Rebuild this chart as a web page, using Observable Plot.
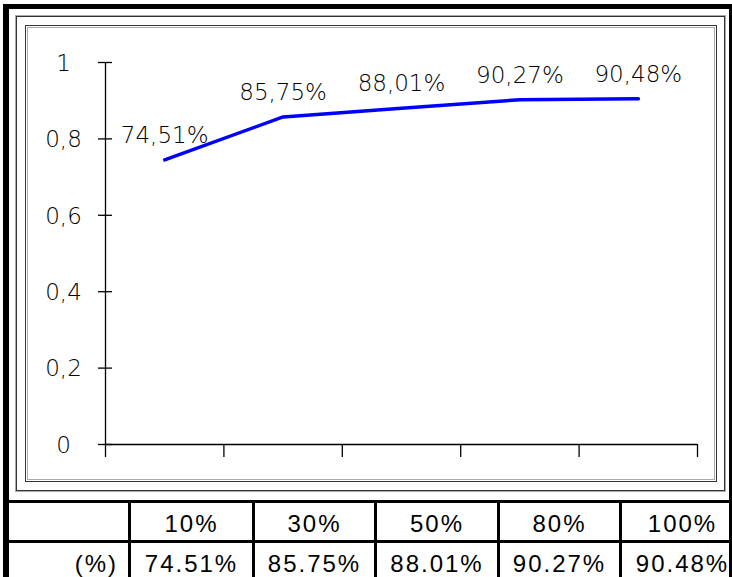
<!DOCTYPE html>
<html>
<head>
<meta charset="utf-8">
<script src="https://cdn.jsdelivr.net/npm/d3@7"></script>
<script src="https://cdn.jsdelivr.net/npm/@observablehq/plot@0.6"></script>
<style>
  html, body { margin: 0; padding: 0; background: #fff; }
  body { width: 732px; height: 577px; overflow: hidden; position: relative; }
  .abs { position: absolute; box-sizing: border-box; }
  #chart { position: absolute; left: 0; top: 0; }
  #tbl { position: absolute; left: 9px; top: 500px; border-collapse: separate; border-spacing: 0;
         table-layout: fixed; border-top: 3px solid #000;
         font-family: "Liberation Sans", Arial, sans-serif; font-size: 24px; letter-spacing: 2px; color: #000; }
  #tbl td { box-sizing: border-box; height: 40px; border-right: 3px solid #000; border-bottom: 3px solid #000;
            padding: 4px 0 0 0; text-align: center; vertical-align: middle; white-space: nowrap; }
  #tbl td.name { text-align: right; padding-right: 10px; }
</style>
</head>
<body>
<div id="chart"></div>
<!-- outer black page border -->
<div class="abs" style="left:3px; top:4px; width:760px; height:600px; border-top:5px solid #000; border-left:6px solid #000;"></div>
<div class="abs" style="left:729px; top:4px; width:10px; height:600px; background:#000;"></div>
<!-- chart area double frames -->
<div class="abs" style="left:15px; top:15px; width:711px; height:477px; border:1px solid #aaa;"></div>
<div class="abs" style="left:16px; top:16px; width:709px; height:475px; border:1.5px solid #333;"></div>
<div class="abs" style="left:25px; top:25px; width:692px; height:457px; border:1.5px solid #333;"></div>
<div class="abs" style="left:27px; top:27px; width:688px; height:453px; border:1px solid #aaa;"></div>
<table id="tbl"></table>
<script>
const categories = ["10%", "30%", "50%", "80%", "100%"];
const values = [0.7451, 0.8575, 0.8801, 0.9027, 0.9048];
const pointLabels = ["74,51%", "85,75%", "88,01%", "90,27%", "90,48%"];
const tableValues = ["74.51%", "85.75%", "88.01%", "90.27%", "90.48%"];
const seriesName = "(%)";
const yTicks = [0, 0.2, 0.4, 0.6, 0.8, 1];
const yTickLabels = ["0", "0,2", "0,4", "0,6", "0,8", "1"];

const data = categories.map((c, i) => ({category: c, pos: i + 0.5, value: values[i], label: pointLabels[i]}));
const boundaries = d3.range(categories.length + 1);

const chart = Plot.plot({
  width: 732,
  height: 500,
  marginLeft: 105,
  marginRight: 35,
  marginTop: 62,
  marginBottom: 56,
  style: {fontFamily: "'DejaVu Sans', sans-serif", fontSize: "23px", background: "transparent", color: "#000"},
  x: {domain: [0, categories.length]},
  y: {domain: [0, 1], axis: null},
  marks: [
    // y ticks crossing the axis line
    Plot.ruleY(yTicks, {y: d => d, x1: 0, x2: 0, insetLeft: -7, insetRight: -7, stroke: "#000", strokeWidth: 1.3}),
    Plot.text(yTicks, {y: d => d, text: (d, i) => yTickLabels[i], frameAnchor: "left", dx: -42, dy: 1,
      textAnchor: "middle", fontSize: 23, fontWeight: 200, fill: "#000"}),
    Plot.axisX({ticks: boundaries, tickSize: 13, tickFormat: () => "", label: null, stroke: "#000", strokeWidth: 1.3}),
    Plot.ruleX([0], {stroke: "#000", strokeWidth: 1.3}),
    Plot.ruleY([0], {stroke: "#000", strokeWidth: 1.3}),
    Plot.line(data, {x: "pos", y: "value", stroke: "#0000ff", strokeWidth: 3.5}),
    Plot.text(data, {x: "pos", y: "value", text: "label", lineAnchor: "bottom", dy: -17,
      fontSize: 23, fontWeight: 200, fill: "#000"})
  ]
});
document.getElementById("chart").appendChild(chart);

// data table under the chart
const colWidths = [122, 124, 122, 123, 122, 124];
const tbl = document.getElementById("tbl");
const colgroup = document.createElement("colgroup");
colWidths.forEach(w => { const col = document.createElement("col"); col.style.width = w + "px"; colgroup.appendChild(col); });
tbl.appendChild(colgroup);
tbl.style.width = d3.sum(colWidths) + "px";
const r1 = tbl.insertRow();
r1.insertCell().textContent = "";
categories.forEach(c => { r1.insertCell().textContent = c; });
const r2 = tbl.insertRow();
const nameCell = r2.insertCell();
nameCell.textContent = seriesName;
nameCell.className = "name";
tableValues.forEach(v => { r2.insertCell().textContent = v; });
</script>
</body>
</html>
